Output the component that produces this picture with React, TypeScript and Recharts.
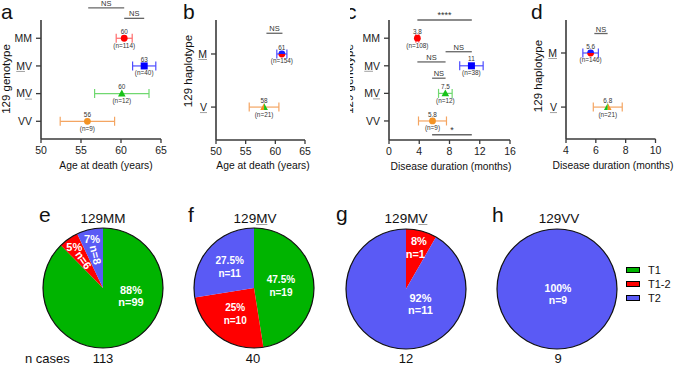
import React from 'react';
import {
  ScatterChart,
  Scatter,
  XAxis,
  YAxis,
  ErrorBar,
  ReferenceLine,
  PieChart,
  Pie,
  Cell,
  Legend,
} from 'recharts';

const FONT = '"Liberation Sans", Arial, Helvetica, sans-serif';
const AXIS = '#3a3a3a';

// ---- top row: mean ± SEM per group ----
const genotypeRows = ['MM', 'MV', 'MV', 'VV'];
const genotypeUnderline = [-1, 0, 1, -1]; // underlined letter (-1 = none)
const haplotypeRows = ['M', 'V'];
const haplotypeUnderline = [0, 0];

const ageGenoMean = [60.4, 62.9, 60.1, 55.8];
const ageGenoSem = [1.0, 1.45, 3.4, 3.4];
const ageGenoText = ['60', '63', '60', '56'];
const ageGenoN = [114, 40, 12, 9];

const ageHaploMean = [61.1, 58.1];
const ageHaploSem = [0.85, 2.5];
const ageHaploText = ['61', '58'];
const ageHaploN = [154, 21];

const durGenoMean = [3.75, 10.9, 7.45, 5.75];
const durGenoSem = [0.2, 1.55, 0.9, 1.85];
const durGenoText = ['3.8', '11', '7.5', '5.8'];
const durGenoN = [108, 38, 12, 9];

const durHaploMean = [5.65, 6.8];
const durHaploSem = [0.52, 0.97];
const durHaploText = ['5.6', '6.8'];
const durHaploN = [146, 21];

const ageTicks = [50, 55, 60, 65];
const durTicksC = [0, 4, 8, 12, 16];
const durTicksD = [4, 6, 8, 10];

// significance bars: x range and level on the row axis
const sigA = [
  { from: 55.9, to: 60.4, row: -0.1, text: 'NS' },
  { from: 60.4, to: 62.9, row: 0.28, text: 'NS' },
];
const sigB = [{ from: 58.5, to: 61.2, row: 0.61, text: 'NS' }];
const sigC = [
  { from: 3.75, to: 10.95, row: 0.34, text: '****' },
  { from: 7.48, to: 10.95, row: 1.49, text: 'NS' },
  { from: 3.75, to: 7.48, row: 1.86, text: 'NS' },
  { from: 5.7, to: 7.48, row: 2.45, text: 'NS' },
  { from: 5.7, to: 10.95, row: 4.5, text: '*' },
];
const sigD = [{ from: 5.9, to: 6.79, row: 0.64, text: 'NS' }];

// ---- bottom row: subtype counts ----
const subtypes = ['T1', 'T1-2', 'T2'];
const casesMM = [99, 6, 8];
const casesMVm = [19, 10, 11];
const casesMVv = [0, 1, 11];
const casesVV = [0, 0, 9];

const subtypeColors = ['#00b400', '#ff0000', '#5a5af5'];

const genoMarks = [
  { kind: 'circle', fill: '#ff0000', bar: '#ff6b6b' },
  { kind: 'square', fill: '#0000ff', bar: '#4d4dff' },
  { kind: 'triangle', fill: '#19c219', bar: '#70d870' },
  { kind: 'circle', fill: '#f39325', bar: '#f4a562' },
];
const haploMarksB = [
  { kind: 'circleSplit', fill: '#1a1aff', fill2: '#ff0000', bar: '#4d4dff' },
  { kind: 'triSplit', fill: '#f39325', fill2: '#19c219', bar: '#f4a562' },
];
const haploMarksD = [
  { kind: 'circleSplit', fill: '#1a1aff', fill2: '#ff0000', bar: '#4d4dff' },
  { kind: 'triSplit', fill: '#19c219', fill2: '#f39325', bar: '#f4a562' },
];

const makePoints = (mean: number[], sem: number[], text: string[], n: number[], marks: any[]) =>
  mean.map((m, i) => ({ x: m, y: i + 1, sem: sem[i], text: text[i], n: n[i], mark: marks[i] }));

const Marker = ({ cx, cy, m }: any) => {
  const r = 3.4;
  if (m.kind === 'square') return <rect x={cx - 3.5} y={cy - 3.5} width={7} height={7} fill={m.fill} />;
  if (m.kind === 'triangle')
    return <polygon points={`${cx},${cy - 4} ${cx - 3.8},${cy + 2.8} ${cx + 3.8},${cy + 2.8}`} fill={m.fill} />;
  if (m.kind === 'circleSplit')
    return (
      <g>
        <path d={`M${cx - r},${cy} A${r},${r} 0 0 1 ${cx + r},${cy} Z`} fill={m.fill} />
        <path d={`M${cx - r},${cy} A${r},${r} 0 0 0 ${cx + r},${cy} Z`} fill={m.fill2} />
      </g>
    );
  if (m.kind === 'triSplit')
    return (
      <g>
        <polygon points={`${cx},${cy - 4} ${cx - 3.8},${cy + 2.8} ${cx},${cy + 2.8}`} fill={m.fill} />
        <polygon points={`${cx},${cy - 4} ${cx},${cy + 2.8} ${cx + 3.8},${cy + 2.8}`} fill={m.fill2} />
      </g>
    );
  return <circle cx={cx} cy={cy} r={r} fill={m.fill} />;
};

const renderDot = (props: any) => {
  const { cx, cy, payload } = props;
  if (cx == null || cy == null) return <g />;
  return (
    <g>
      <Marker cx={cx} cy={cy} m={payload.mark} />
      <text x={cx} y={cy - 4.3} textAnchor="middle" fontSize={6.4} fill="#333" fontFamily={FONT}>
        {payload.text}
      </text>
      <text x={cx} y={cy + 9.5} textAnchor="middle" fontSize={6.4} fill="#333" fontFamily={FONT}>
        {`(n=${payload.n})`}
      </text>
    </g>
  );
};

const charW = (ch: string) => (ch === 'M' ? 0.833 : ch === 'V' ? 0.667 : 0.556);

const RowTick = ({ x, y, payload, rows, underline }: any) => {
  const i = Math.round(payload.value) - 1;
  const label = rows[i];
  if (label == null) return <g />;
  const fs = 10.5;
  const w = label.split('').map((ch: string) => charW(ch) * fs);
  const total = w.reduce((a: number, b: number) => a + b, 0);
  const k = underline[i];
  let ul = null;
  if (k >= 0) {
    const x0 = x - total + w.slice(0, k).reduce((a: number, b: number) => a + b, 0);
    ul = <line x1={x0} x2={x0 + w[k]} y1={y + 5.5} y2={y + 5.5} stroke="#a0a0a0" strokeWidth={1} />;
  }
  return (
    <g>
      <text x={x} y={y} dy="0.355em" textAnchor="end" fontSize={fs} fill="#222" fontFamily={FONT}>
        {label}
      </text>
      {ul}
    </g>
  );
};

function DotPanel(props: any) {
  const { left, width, yAxisWidth, plotRight, xAxisHeight, rows, underline, yDomain, xDomain, xTicks, points, sig } =
    props;
  return (
    <div style={{ position: 'absolute', left, top: 0 }}>
      <ScatterChart width={width} height={180} margin={{ top: 20, right: width - plotRight, bottom: 0, left: 0 }}>
        <XAxis
          type="number"
          dataKey="x"
          domain={xDomain}
          ticks={xTicks}
          interval={0}
          allowDataOverflow
          height={xAxisHeight}
          axisLine={{ stroke: AXIS, strokeWidth: 1.6 }}
          tickLine={{ stroke: AXIS, strokeWidth: 1.3 }}
          tickSize={4}
          tickMargin={4}
          tick={{ fill: '#222', fontSize: 10.5, fontFamily: FONT }}
        />
        <YAxis
          type="number"
          dataKey="y"
          domain={yDomain}
          reversed
          ticks={rows.map((_: string, i: number) => i + 1)}
          interval={0}
          allowDataOverflow
          width={yAxisWidth}
          axisLine={{ stroke: AXIS, strokeWidth: 1.6 }}
          tickLine={{ stroke: AXIS, strokeWidth: 1.3 }}
          tickSize={5}
          tickMargin={4}
          tick={(p: any) => <RowTick {...p} rows={rows} underline={underline} />}
        />
        {sig.map((b: any, i: number) => (
          <ReferenceLine
            key={`sig-${i}`}
            segment={[
              { x: b.from, y: b.row },
              { x: b.to, y: b.row },
            ]}
            stroke="#666"
            strokeWidth={1.3}
            ifOverflow="visible"
            label={{
              value: b.text,
              position: 'top',
              offset: 2,
              fontSize: b.text.includes('*') ? 9 : 7.5,
              fill: '#333',
              fontFamily: FONT,
            }}
          />
        ))}
        {points.map((p: any, i: number) => (
          <Scatter key={`pt-${i}`} data={[p]} shape={renderDot} isAnimationActive={false}>
            <ErrorBar dataKey="sem" direction="x" width={4.5} stroke={p.mark.bar} strokeWidth={1.2} />
          </Scatter>
        ))}
      </ScatterChart>
    </div>
  );
}

const RAD = Math.PI / 180;
const fmtPct = (p: number) => {
  const v = p * 100;
  const half = Math.round(v * 2) / 2;
  if (Math.abs(v - half) < 0.05) return `${half}%`;
  return `${Math.round(v)}%`;
};

const makePieLabel = (bigSpot: number[], fs: number, gap: number) => (p: any) => {
  const { cx, cy, midAngle, percent, value, startAngle, endAngle } = p;
  if (!value) return <g />;
  const pct = fmtPct(percent);
  const nTxt = `n=${value}`;
  const span = Math.abs(endAngle - startAngle);
  const c = Math.cos(-midAngle * RAD);
  const s = Math.sin(-midAngle * RAD);
  const common: any = {
    fill: '#fff',
    fontSize: fs,
    fontWeight: 700,
    textAnchor: 'middle',
    dominantBaseline: 'central',
    fontFamily: FONT,
  };
  if (percent > 0.8) {
    const bx = cx + bigSpot[0];
    const by = cy + bigSpot[1];
    return (
      <g>
        <text x={bx} y={by - gap / 2} {...common}>{pct}</text>
        <text x={bx} y={by + gap / 2} {...common}>{nTxt}</text>
      </g>
    );
  }
  if (span < 40) {
    const px = cx + 50 * c;
    const py = cy + 50 * s;
    const rot = span < 27 ? Math.atan2(-s, -c) / RAD : 0;
    const nr = rot ? 34 : 36;
    const nx = cx + nr * c;
    const ny = cy + nr * s;
    return (
      <g>
        <text x={px} y={py} {...common}>{pct}</text>
        <text x={nx} y={ny} transform={rot ? `rotate(${rot} ${nx} ${ny})` : undefined} {...common}>
          {nTxt}
        </text>
      </g>
    );
  }
  const r = midAngle > -30 && midAngle < 30 ? 27 : 32;
  const bx = cx + r * c;
  const by = cy + r * s;
  return (
    <g>
      <text x={bx} y={by - gap / 2} {...common}>{pct}</text>
      <text x={bx} y={by + gap / 2} {...common}>{nTxt}</text>
    </g>
  );
};

const SubtypeKey = () => (
  <div style={{ fontFamily: FONT, fontSize: 11, color: '#111' }}>
    {subtypes.map((name, i) => (
      <div key={name} style={{ display: 'flex', alignItems: 'center', height: 14 }}>
        <span
          style={{
            display: 'inline-block',
            width: 12,
            height: 4,
            background: subtypeColors[i],
            border: '1px solid #000',
            marginRight: 8,
          }}
        />
        <span>{name}</span>
      </div>
    ))}
  </div>
);

function PiePanel({ cx, cy, counts, bigSpot, fs, gap, width = 140, legend = false }: any) {
  const data = subtypes.map((name, i) => ({ name, value: counts[i] }));
  return (
    <div style={{ position: 'absolute', left: cx - 70, top: cy - 70 }}>
      <PieChart width={width} height={140} margin={{ top: 0, right: 0, bottom: 0, left: 0 }}>
        <Pie
          data={data}
          dataKey="value"
          nameKey="name"
          cx={70}
          cy={70}
          outerRadius={60}
          startAngle={90}
          endAngle={-270}
          stroke="none"
          isAnimationActive={false}
          labelLine={false}
          label={makePieLabel(bigSpot, fs, gap)}
        >
          {data.map((d, i) => (
            <Cell key={d.name} fill={subtypeColors[i]} />
          ))}
        </Pie>
        <Pie
          data={[{ name: 'rim', value: 1 }]}
          dataKey="value"
          cx={70}
          cy={70}
          innerRadius={59.4}
          outerRadius={60.6}
          fill="#111"
          stroke="none"
          legendType="none"
          isAnimationActive={false}
        />
        {legend && (
          <Legend
            layout="vertical"
            align="right"
            verticalAlign="middle"
            wrapperStyle={{ left: 139, top: 44.5, width: 50 }}
            content={() => <SubtypeKey />}
          />
        )}
      </PieChart>
    </div>
  );
}

const PieTitle = ({ x, y, label, ul }: any) => {
  const fs = 13.5;
  const w = label.split('').map((ch: string) => charW(ch) * fs);
  const total = w.reduce((a: number, b: number) => a + b, 0);
  const x0 = x - total / 2 + w.slice(0, ul).reduce((a: number, b: number) => a + b, 0);
  return (
    <g>
      <text x={x} y={y} dominantBaseline="central" textAnchor="middle" fontSize={fs} fill="#111" fontFamily={FONT}>
        {label}
      </text>
      {ul >= 0 && <line x1={x0} x2={x0 + w[ul]} y1={y + 6.5} y2={y + 6.5} stroke="#a0a0a0" strokeWidth={1} />}
    </g>
  );
};

function Overlay() {
  const t: any = { fontFamily: FONT, fill: '#111' };
  const letter: any = { ...t, fontSize: 21 };
  const xTitle: any = { ...t, fontSize: 10.3, textAnchor: 'middle', dominantBaseline: 'central' };
  const yTitle = (x: number, y: number, label: string) => (
    <text
      x={x}
      y={y}
      transform={`rotate(-90 ${x} ${y})`}
      textAnchor="middle"
      dominantBaseline="central"
      fontSize={11.5}
      {...t}
    >
      {label}
    </text>
  );
  const count: any = { ...t, fontSize: 13, textAnchor: 'middle', dominantBaseline: 'central' };
  return (
    <svg width={676} height={366} style={{ position: 'absolute', left: 0, top: 0, pointerEvents: 'none' }}>
      <defs>
        <clipPath id="clip-c">
          <rect x={350} y={0} width={200} height={180} />
        </clipPath>
      </defs>
      <text x={1} y={19} {...letter}>a</text>
      <text x={183} y={19} {...letter}>b</text>
      <g clipPath="url(#clip-c)">
        <text x={346} y={19} {...letter}>c</text>
        {yTitle(349, 79, '129 genotype')}
      </g>
      <text x={531} y={19} {...letter}>d</text>
      {yTitle(6, 79, '129 genotype')}
      {yTitle(188, 71, '129 haplotype')}
      {yTitle(538, 76, '129 haplotype')}
      <text x={106} y={165} {...xTitle}>Age at death (years)</text>
      <text x={263} y={165} {...xTitle}>Age at death (years)</text>
      <text x={451} y={166} {...xTitle}>Disease duration (months)</text>
      <text x={613} y={165} {...xTitle}>Disease duration (months)</text>

      <text x={39} y={222} {...letter}>e</text>
      <text x={188} y={222} {...letter}>f</text>
      <text x={336} y={221} {...letter}>g</text>
      <text x={492} y={222} {...letter}>h</text>
      <PieTitle x={103} y={218} label="129MM" ul={-1} />
      <PieTitle x={255} y={218} label="129MV" ul={3} />
      <PieTitle x={406} y={218} label="129MV" ul={4} />
      <PieTitle x={559} y={218} label="129VV" ul={-1} />

      <text x={25} y={358.5} {...t} fontSize={13} dominantBaseline="central">n cases</text>
      <text x={103} y={358.5} {...count}>{casesMM.reduce((a, b) => a + b, 0)}</text>
      <text x={253} y={358.5} {...count}>{casesMVm.reduce((a, b) => a + b, 0)}</text>
      <text x={406} y={358.5} {...count}>{casesMVv.reduce((a, b) => a + b, 0)}</text>
      <text x={558} y={358.5} {...count}>{casesVV.reduce((a, b) => a + b, 0)}</text>
    </svg>
  );
}

export default function App() {
  return (
    <div style={{ position: 'absolute', left: 0, top: 0, width: 676, height: 366, background: '#fff', overflow: 'hidden' }}>
      <DotPanel
        left={0}
        width={180}
        yAxisWidth={41}
        plotRight={161}
        xAxisHeight={41}
        rows={genotypeRows}
        underline={genotypeUnderline}
        yDomain={[0.34, 4.64]}
        xDomain={[50, 65]}
        xTicks={ageTicks}
        points={makePoints(ageGenoMean, ageGenoSem, ageGenoText, ageGenoN, genoMarks)}
        sig={sigA}
      />
      <DotPanel
        left={180}
        width={140}
        yAxisWidth={36}
        plotRight={125}
        xAxisHeight={40}
        rows={haplotypeRows}
        underline={haplotypeUnderline}
        yDomain={[0.36, 2.62]}
        xDomain={[50, 65]}
        xTicks={ageTicks}
        points={makePoints(ageHaploMean, ageHaploSem, ageHaploText, ageHaploN, haploMarksB)}
        sig={sigB}
      />
      <DotPanel
        left={350}
        width={175}
        yAxisWidth={39}
        plotRight={160}
        xAxisHeight={40}
        rows={genotypeRows}
        underline={genotypeUnderline}
        yDomain={[0.34, 4.69]}
        xDomain={[0, 16]}
        xTicks={durTicksC}
        points={makePoints(durGenoMean, durGenoSem, durGenoText, durGenoN, genoMarks)}
        sig={sigC}
      />
      <DotPanel
        left={520}
        width={156}
        yAxisWidth={46}
        plotRight={135.5}
        xAxisHeight={41}
        rows={haplotypeRows}
        underline={haplotypeUnderline}
        yDomain={[0.39, 2.59]}
        xDomain={[4, 10]}
        xTicks={durTicksD}
        points={makePoints(durHaploMean, durHaploSem, durHaploText, durHaploN, haploMarksD)}
        sig={sigD}
      />
      <PiePanel cx={103} cy={288} counts={casesMM} bigSpot={[28, 8]} fs={11} gap={11.5} />
      <PiePanel cx={253.5} cy={287.5} counts={casesMVm} bigSpot={[0, 0]} fs={10} gap={13} />
      <PiePanel cx={405.5} cy={288.5} counts={casesMVv} bigSpot={[14.5, 15]} fs={11} gap={12.5} />
      <PiePanel cx={557} cy={288.5} counts={casesVV} bigSpot={[1, 5]} fs={10.5} gap={11.5} width={189} legend />
      <Overlay />
    </div>
  );
}
